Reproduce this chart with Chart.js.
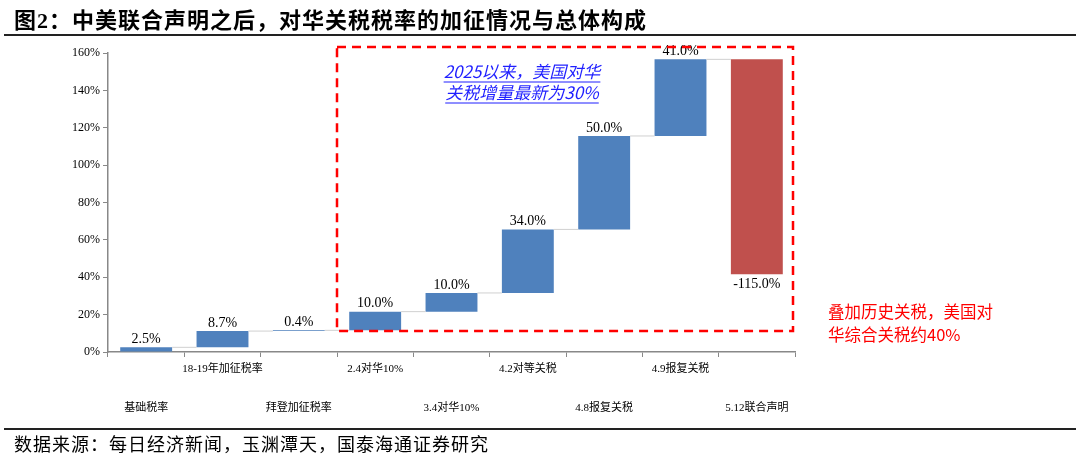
<!DOCTYPE html>
<html><head><meta charset="utf-8">
<script src="https://cdn.jsdelivr.net/npm/chart.js@4"></script>
<style>
body{margin:0;background:#fff;width:1080px;height:458px;position:relative;overflow:hidden;font-family:"Liberation Serif","Noto Sans CJK SC",serif}
#title{position:absolute;left:14px;top:2px;font-size:22px;font-weight:bold;font-family:"Liberation Serif","Noto Sans CJK SC";color:#000;letter-spacing:1px}
#l1{position:absolute;left:4px;right:4px;top:34px;height:2px;background:#222}
#l2{position:absolute;left:4px;right:4px;top:428px;height:2px;background:#222}
#src{position:absolute;left:14px;top:430px;font-size:18px;font-family:"Noto Sans CJK SC";color:#000;letter-spacing:1px}
#wrap{position:absolute;left:0;top:0;width:1080px;height:458px}
</style></head><body>
<div id="wrap"><canvas id="c"></canvas></div>
<div id="title">图2：中美联合声明之后，对华关税税率的加征情况与总体构成</div>
<div id="l1"></div><div id="l2"></div>
<div id="src">数据来源：每日经济新闻，玉渊潭天，国泰海通证券研究</div>
<script>
// categories and increments (%)
var categories = ['基础税率','18-19年加征税率','拜登加征税率','2.4对华10%','3.4对华10%','4.2对等关税','4.8报复关税','4.9报复关税','5.12联合声明'];
var changes = [2.5, 8.7, 0.4, 10.0, 10.0, 34.0, 50.0, 41.0, -115.0];
var yTicks = [0,20,40,60,80,100,120,140,160];

var ranges = [], run = 0;
for (var i=0;i<changes.length;i++){
  ranges.push([run, run+changes[i]]);
  run += changes[i];
}
var colors = changes.map(function(v){ return v<0 ? '#C0504D' : '#4F81BD'; });

var extras = {
  id:'extras',
  afterDatasetsDraw:function(chart){
    var ctx = chart.ctx, xs = chart.scales.x, ys = chart.scales.y, meta = chart.getDatasetMeta(0);
    ctx.save();
    // connectors
    ctx.strokeStyle = '#d0d0d0'; ctx.lineWidth = 1;
    for (var i=0;i<ranges.length-1;i++){
      var b = meta.data[i], n = meta.data[i+1];
      var y = ys.getPixelForValue(ranges[i][1]);
      ctx.beginPath(); ctx.moveTo(b.x+b.width/2, y); ctx.lineTo(n.x-n.width/2, y); ctx.stroke();
    }
    // value labels
    ctx.fillStyle = '#000'; ctx.font = '14px "Liberation Serif"'; ctx.textAlign = 'center';
    for (var i=0;i<ranges.length;i++){
      var bar = meta.data[i], txt = changes[i].toFixed(1)+'%';
      if (changes[i] < 0){
        ctx.textBaseline = 'top';
        ctx.fillText(txt, bar.x, ys.getPixelForValue(Math.min.apply(null, ranges[i])) + 3);
      } else {
        ctx.textBaseline = 'bottom';
        ctx.fillText(txt, bar.x, ys.getPixelForValue(Math.max.apply(null, ranges[i])) - 1);
      }
    }
    // category labels in two rows
    ctx.font = '11px "Liberation Serif","Noto Sans CJK SC"'; ctx.textBaseline = 'middle';
    for (var i=0;i<categories.length;i++){
      ctx.fillText(categories[i], xs.getPixelForValue(i), i%2 ? 369 : 408);
    }
    // red dashed box
    var left = (xs.getPixelForValue(2)+xs.getPixelForValue(3))/2;
    var right = chart.chartArea.right - 2, top = 47, bottom = ys.getPixelForValue(11.2);
    ctx.strokeStyle = '#FF0000'; ctx.lineWidth = 2.5; ctx.setLineDash([9,6]);
    ctx.strokeRect(left, top, right-left, bottom-top);
    ctx.setLineDash([]);
    // blue note
    ctx.fillStyle = '#1F1FFF'; ctx.strokeStyle = '#1F1FFF'; ctx.lineWidth = 1;
    ctx.font = 'italic 17px "Noto Sans CJK SC"'; ctx.textAlign = 'center';
    var notes = ['2025以来，美国对华','关税增量最新为30%'];
    for (var k=0;k<notes.length;k++){
      var yy = 72 + k*21, w = ctx.measureText(notes[k]).width;
      ctx.fillText(notes[k], 522, yy);
      ctx.beginPath(); ctx.moveTo(522-w/2, yy+10); ctx.lineTo(522+w/2, yy+10); ctx.stroke();
    }
    // red note
    ctx.fillStyle = '#FF0000'; ctx.font = '16.5px "Noto Sans CJK SC"'; ctx.textAlign = 'left';
    ctx.fillText('叠加历史关税，美国对', 828, 312);
    ctx.fillText('华综合关税约40%', 828, 335);
    ctx.restore();
  }
};

new Chart(document.getElementById('c'), {
  type:'bar',
  data:{labels:categories, datasets:[{data:ranges, backgroundColor:colors, barPercentage:0.68, categoryPercentage:1.0}]},
  plugins:[extras],
  options:{
    responsive:true, maintainAspectRatio:false, animation:false,
    layout:{padding:{left:50, top:53, right:285, bottom:0}},
    plugins:{legend:{display:false}, tooltip:{enabled:false}},
    scales:{
      x:{
        grid:{offset:true, drawOnChartArea:false, tickLength:5, color:'#888'},
        border:{color:'#888', width:1.5},
        ticks:{callback:function(){return '';}},
        afterFit:function(s){ s.height = 106; }
      },
      y:{
        min:0, max:160,
        afterBuildTicks:function(s){ s.ticks = yTicks.map(function(v){return {value:v};}); },
        grid:{drawOnChartArea:false, tickLength:5, color:'#888'},
        border:{color:'#888', width:1.5},
        ticks:{color:'#000', font:{family:'Liberation Serif', size:12}, padding:3,
               callback:function(v){ return v+'%'; }},
        afterFit:function(s){ s.width = 58; }
      }
    }
  }
});
</script>
</body></html>
